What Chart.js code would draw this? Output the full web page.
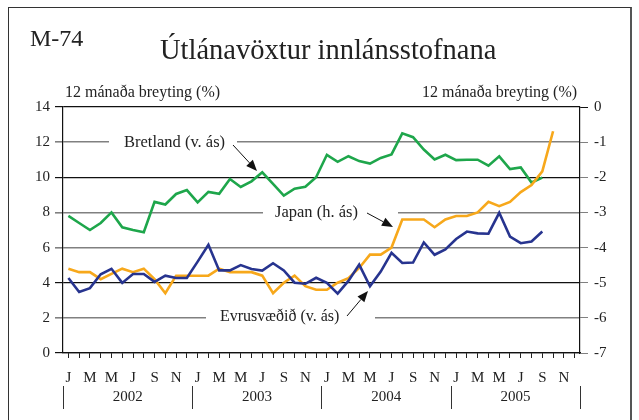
<!DOCTYPE html>
<html>
<head>
<meta charset="utf-8">
<script src="https://cdn.jsdelivr.net/npm/chart.js@4/dist/chart.umd.min.js"></script>
<style>
body { margin: 0; background: #fff; font-family: 'Liberation Serif', 'Times New Roman', serif; color: #222; }
#wrap { position: relative; width: 639px; height: 420px; overflow: hidden; }
#frame { position: absolute; left: 8px; top: 7px; width: 621px; height: 440px;
  border-left: 1px solid #333; border-top: 1px solid #333; border-right: 2px solid #555; }
#chart { position: absolute; left: 0; top: 0; }
.t { position: absolute; white-space: nowrap; line-height: 1; }
</style>
</head>
<body>
<div id="wrap">
  <div id="frame"></div>
  <canvas id="chart" width="639" height="420"></canvas>
  <div class="t" style="left:30px;top:26px;font-size:24px">M-74</div>
  <div class="t" style="left:160px;top:36px;font-size:28.5px">Útlánavöxtur innlánsstofnana</div>
  <div class="t" style="left:65px;top:84px;font-size:16px">12 mánaða breyting (%)</div>
  <div class="t" style="left:422px;top:84px;font-size:16px">12 mánaða breyting (%)</div>
  <div class="t" style="left:124px;top:134px;font-size:16.5px">Bretland (v. ás)</div>
  <div class="t" style="left:275px;top:204px;font-size:16.5px">Japan (h. ás)</div>
  <div class="t" style="left:220px;top:308px;font-size:16px">Evrusvæðið (v. ás)</div>
</div>
<script>
var years = ['2002', '2003', '2004', '2005'];
var monthTicks = ['J', '', 'M', '', 'M', '', 'J', '', 'S', '', 'N', ''];

// 12 month change, left axis
var bretland = [7.8, 7.4, 7.0, 7.4, 8.0, 7.15, 7.0, 6.87, 8.6, 8.45, 9.05, 9.27,
  8.57, 9.17, 9.06, 9.9, 9.45, 9.77, 10.28, 9.62, 8.96, 9.35, 9.46, 10.0,
  11.28, 10.88, 11.2, 10.92, 10.78, 11.1, 11.3, 12.5, 12.28, 11.58, 11.02, 11.28,
  10.98, 11.0, 11.0, 10.66, 11.19, 10.47, 10.56, 9.7, 9.98];
var evrusvaedid = [4.27, 3.47, 3.69, 4.48, 4.79, 3.99, 4.5, 4.5, 4.05, 4.4, 4.27, 4.27,
  5.2, 6.16, 4.7, 4.7, 5.0, 4.78, 4.69, 5.11, 4.7, 4.0, 3.94, 4.28,
  4.0, 3.38, 4.1, 5.03, 3.8, 4.63, 5.7, 5.12, 5.15, 6.29, 5.59, 5.9,
  6.49, 6.91, 6.81, 6.79, 7.98, 6.63, 6.25, 6.35, 6.91];
// right axis
var japan = [-4.6, -4.7, -4.7, -4.9, -4.75, -4.6, -4.7, -4.6, -4.9, -5.3, -4.8, -4.8,
  -4.8, -4.8, -4.6, -4.7, -4.7, -4.7, -4.8, -5.3, -5.0, -4.8, -5.1, -5.2,
  -5.2, -5.0, -4.87, -4.58, -4.2, -4.2, -4.0, -3.2, -3.2, -3.2, -3.42, -3.2,
  -3.1, -3.1, -3.0, -2.7, -2.82, -2.7, -2.42, -2.22, -1.83, -0.69];

var labels = [];
years.forEach(function(yr) {
  for (var m = 0; m < 12; m++) labels.push(yr + '-' + (m + 1));
});

// holes in the grid where the series names sit
var gaps = [
  { value: 12, from: 109, to: 237 },
  { value: 8, from: 263, to: 398 },
  { value: 2, from: 206, to: 375 }
];
var arrows = [
  [233, 145, 257, 171],
  [367, 213, 393, 227],
  [347, 316, 368, 291]
];

var gridColor = function(ctx) {
  var v = ctx.tick.value;
  if (v === 0 || v === 4 || v === 10 || v === 14) return '#111';
  return '#808080';
};
var gridWidth = function(ctx) {
  var v = ctx.tick.value;
  if (v === 0 || v === 4 || v === 10 || v === 14) return 1.2;
  return 1.6;
};

var decor = {
  id: 'decor',
  beforeDatasetsDraw: function(chart) {
    var ctx = chart.ctx, y = chart.scales.y;
    ctx.save();
    ctx.fillStyle = '#fff';
    gaps.forEach(function(g) {
      var py = y.getPixelForValue(g.value);
      ctx.fillRect(g.from, py - 3, g.to - g.from, 6);
    });
    ctx.restore();
  },
  afterDraw: function(chart) {
    var ctx = chart.ctx, x = chart.scales.x;
    ctx.save();
    // arrows
    ctx.strokeStyle = '#111';
    ctx.fillStyle = '#111';
    ctx.lineWidth = 1;
    arrows.forEach(function(a) {
      var ang = Math.atan2(a[3] - a[1], a[2] - a[0]);
      var len = 11, w = 4.5;
      var bx = a[2] - len * Math.cos(ang), by = a[3] - len * Math.sin(ang);
      ctx.beginPath();
      ctx.moveTo(a[0], a[1]);
      ctx.lineTo(bx, by);
      ctx.stroke();
      ctx.beginPath();
      ctx.moveTo(a[2], a[3]);
      ctx.lineTo(bx + w * Math.sin(ang), by - w * Math.cos(ang));
      ctx.lineTo(bx - w * Math.sin(ang), by + w * Math.cos(ang));
      ctx.closePath();
      ctx.fill();
    });
    // year row under the month letters
    var half = (x.getPixelForValue(1) - x.getPixelForValue(0)) / 2;
    ctx.strokeStyle = '#333';
    ctx.fillStyle = '#222';
    ctx.font = "15px 'Liberation Serif'";
    ctx.textAlign = 'center';
    ctx.textBaseline = 'middle';
    for (var k = 0; k <= years.length; k++) {
      var px = Math.round(x.getPixelForValue(k * 12) - half) + 0.5;
      ctx.beginPath();
      ctx.moveTo(px, 386);
      ctx.lineTo(px, 409);
      ctx.stroke();
      if (k < years.length) {
        var a0 = x.getPixelForValue(k * 12) - half;
        var a1 = x.getPixelForValue(k * 12 + 11) + half;
        ctx.fillText(years[k], (a0 + a1) / 2, 397);
      }
    }
    ctx.restore();
  }
};

var tickFont = { family: "'Liberation Serif'", size: 15 };

new Chart(document.getElementById('chart'), {
  type: 'line',
  data: {
    labels: labels,
    datasets: [
      { label: 'Evrusvæðið', data: evrusvaedid, yAxisID: 'y', borderColor: '#27348f', borderWidth: 2.6 },
      { label: 'Japan', data: japan, yAxisID: 'y2', borderColor: '#f7a81b', borderWidth: 2.6 },
      { label: 'Bretland', data: bretland, yAxisID: 'y', borderColor: '#1ea64b', borderWidth: 2.6 }
    ]
  },
  options: {
    responsive: false,
    animation: false,
    devicePixelRatio: 1,
    layout: { padding: { top: 107, left: 0, right: 0, bottom: 0 } },
    elements: { point: { radius: 0 }, line: { tension: 0 } },
    plugins: { legend: { display: false }, tooltip: { enabled: false } },
    scales: {
      x: {
        offset: true,
        grid: { offset: false, drawOnChartArea: false, tickLength: 5, color: '#222' },
        border: { display: true, color: '#111', width: 1.2 },
        ticks: {
          autoSkip: false, maxRotation: 0, padding: 11, color: '#222', font: tickFont,
          callback: function(v, i) { return monthTicks[i % 12]; }
        },
        afterFit: function(s) { s.height = 67; }
      },
      y: {
        position: 'left',
        min: 0, max: 14,
        ticks: { stepSize: 2, padding: 5, color: '#222', font: tickFont },
        grid: { color: gridColor, lineWidth: gridWidth, tickLength: 8 },
        border: { display: true, color: '#111', width: 1.2 },
        afterFit: function(s) { s.width = 63; }
      },
      y2: {
        position: 'right',
        min: -7, max: 0,
        ticks: { stepSize: 1, padding: 6, color: '#222', font: tickFont },
        grid: { drawOnChartArea: false, color: gridColor, tickLength: 8 },
        border: { display: true, color: '#111', width: 1.2 },
        afterFit: function(s) { s.width = 59; }
      }
    }
  },
  plugins: [decor]
});
</script>
</body>
</html>
